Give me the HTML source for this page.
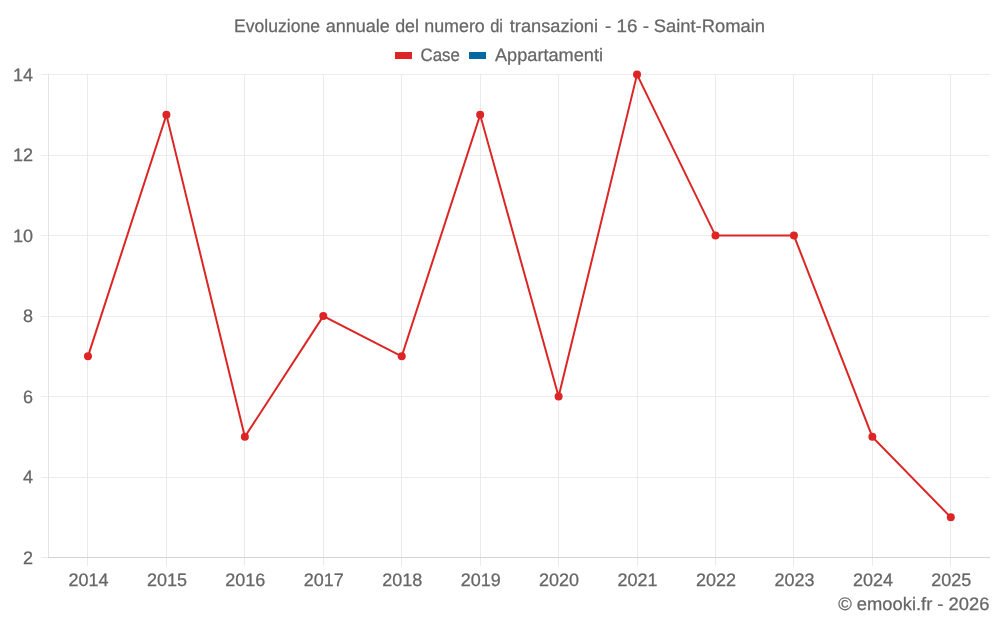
<!DOCTYPE html>
<html lang="it">
<head>
<meta charset="utf-8">
<title>Evoluzione annuale del numero di transazioni - 16 - Saint-Romain</title>
<style>
html,body{margin:0;padding:0;background:#fff;}
body{width:1000px;height:625px;overflow:hidden;}
svg{display:block;will-change:transform;}
text{font-family:"Liberation Sans",sans-serif;font-size:18px;fill:#666;stroke:#666;stroke-width:0.25px;text-rendering:geometricPrecision;}
</style>
</head>
<body>
<svg width="1000" height="625" viewBox="0 0 1000 625">
<rect x="0" y="0" width="1000" height="625" fill="#ffffff"/>
<g stroke="#eaeaea" stroke-width="1" shape-rendering="crispEdges">
<line x1="41" y1="557.5" x2="990" y2="557.5" stroke="#ececec"/>
<line x1="41" y1="477.5" x2="990" y2="477.5" stroke="#ececec"/>
<line x1="41" y1="396.5" x2="990" y2="396.5" stroke="#ececec"/>
<line x1="41" y1="316.5" x2="990" y2="316.5" stroke="#ececec"/>
<line x1="41" y1="235.5" x2="990" y2="235.5" stroke="#ececec"/>
<line x1="41" y1="155.5" x2="990" y2="155.5" stroke="#ececec"/>
<line x1="41" y1="74.5" x2="990" y2="74.5" stroke="#ececec"/>
<line x1="87.5" y1="74" x2="87.5" y2="566"/>
<line x1="166.5" y1="74" x2="166.5" y2="566"/>
<line x1="244.5" y1="74" x2="244.5" y2="566"/>
<line x1="323.5" y1="74" x2="323.5" y2="566"/>
<line x1="401.5" y1="74" x2="401.5" y2="566"/>
<line x1="480.5" y1="74" x2="480.5" y2="566"/>
<line x1="558.5" y1="74" x2="558.5" y2="566"/>
<line x1="637.5" y1="74" x2="637.5" y2="566"/>
<line x1="715.5" y1="74" x2="715.5" y2="566"/>
<line x1="793.5" y1="74" x2="793.5" y2="566"/>
<line x1="872.5" y1="74" x2="872.5" y2="566"/>
<line x1="950.5" y1="74" x2="950.5" y2="566"/>
<line x1="48.5" y1="74" x2="48.5" y2="558" stroke="#e4e4e4"/>
<line x1="48" y1="557.5" x2="990" y2="557.5" stroke="#d4d4d4"/>
</g>
<polyline points="87.97,356.35 166.41,114.85 244.85,436.85 323.29,316.10 401.73,356.35 480.17,114.85 558.61,396.60 637.05,74.60 715.49,235.60 793.93,235.60 872.37,436.85 950.81,517.35" fill="none" stroke="#dc2626" stroke-width="2" stroke-linejoin="miter"/>
<g fill="#dc2626">
<circle cx="87.97" cy="356.35" r="4"/>
<circle cx="166.41" cy="114.85" r="4"/>
<circle cx="244.85" cy="436.85" r="4"/>
<circle cx="323.29" cy="316.10" r="4"/>
<circle cx="401.73" cy="356.35" r="4"/>
<circle cx="480.17" cy="114.85" r="4"/>
<circle cx="558.61" cy="396.60" r="4"/>
<circle cx="637.05" cy="74.60" r="4"/>
<circle cx="715.49" cy="235.60" r="4"/>
<circle cx="793.93" cy="235.60" r="4"/>
<circle cx="872.37" cy="436.85" r="4"/>
<circle cx="950.81" cy="517.35" r="4"/>
</g>
<text y="32"><tspan x="233.99" textLength="86.01" lengthAdjust="spacingAndGlyphs">Evoluzione</tspan> <tspan x="325.78" textLength="64.05" lengthAdjust="spacingAndGlyphs">annuale</tspan> <tspan x="395.17" textLength="23.83" lengthAdjust="spacingAndGlyphs">del</tspan> <tspan x="424.19" textLength="60.62" lengthAdjust="spacingAndGlyphs">numero</tspan> <tspan x="490.14" textLength="12.86" lengthAdjust="spacingAndGlyphs">di</tspan> <tspan x="509.79" textLength="88.21" lengthAdjust="spacingAndGlyphs">transazioni</tspan> <tspan x="605.00" textLength="44.00" lengthAdjust="spacingAndGlyphs">- 16 -</tspan> <tspan x="653.79" textLength="111.21" lengthAdjust="spacingAndGlyphs">Saint-Romain</tspan></text>
<rect x="395" y="52" width="17" height="7" fill="#dc2626"/>
<text x="420.46" y="61.4" textLength="39.37" lengthAdjust="spacingAndGlyphs">Case</text>
<rect x="469" y="52" width="17" height="7" fill="#0369a1"/>
<text x="495.00" y="61.4" textLength="108.00" lengthAdjust="spacingAndGlyphs">Appartamenti</text>
<text x="33" y="564" text-anchor="end">2</text>
<text x="33" y="483" text-anchor="end">4</text>
<text x="33" y="403" text-anchor="end">6</text>
<text x="33" y="322" text-anchor="end">8</text>
<text x="33" y="242" text-anchor="end">10</text>
<text x="33" y="161" text-anchor="end">12</text>
<text x="33" y="81" text-anchor="end">14</text>
<text x="88.5" y="586" text-anchor="middle">2014</text>
<text x="166.9" y="586" text-anchor="middle">2015</text>
<text x="245.3" y="586" text-anchor="middle">2016</text>
<text x="323.8" y="586" text-anchor="middle">2017</text>
<text x="402.2" y="586" text-anchor="middle">2018</text>
<text x="480.7" y="586" text-anchor="middle">2019</text>
<text x="559.1" y="586" text-anchor="middle">2020</text>
<text x="637.5" y="586" text-anchor="middle">2021</text>
<text x="716.0" y="586" text-anchor="middle">2022</text>
<text x="794.4" y="586" text-anchor="middle">2023</text>
<text x="872.9" y="586" text-anchor="middle">2024</text>
<text x="951.3" y="586" text-anchor="middle">2025</text>
<text x="838.19" y="609.5" textLength="151.21" lengthAdjust="spacingAndGlyphs">© emooki.fr - 2026</text>
</svg>
</body>
</html>
